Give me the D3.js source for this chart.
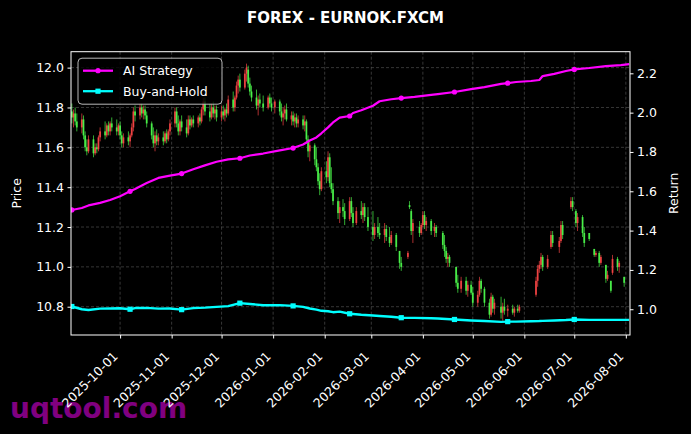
<!DOCTYPE html>
<html>
<head>
<meta charset="utf-8">
<script src="https://cdn.jsdelivr.net/npm/d3@7"></script>
<style>
  body { margin: 0; background: #000; }
  svg { display: block; }
</style>
</head>
<body>
<div id="chart"></div>
<script>
// daily candles (one line per month)
const candleDates = [
  "2025-09-02","2025-09-03","2025-09-04","2025-09-05","2025-09-08","2025-09-09","2025-09-10","2025-09-11","2025-09-12","2025-09-15","2025-09-16","2025-09-17","2025-09-18","2025-09-19","2025-09-22","2025-09-23","2025-09-24","2025-09-25","2025-09-26","2025-09-29","2025-09-30",
  "2025-10-01","2025-10-02","2025-10-03","2025-10-06","2025-10-07","2025-10-08","2025-10-09","2025-10-10","2025-10-13","2025-10-14","2025-10-15","2025-10-16","2025-10-17","2025-10-20","2025-10-21","2025-10-22","2025-10-23","2025-10-24","2025-10-27","2025-10-28","2025-10-29","2025-10-30","2025-10-31",
  "2025-11-03","2025-11-04","2025-11-05","2025-11-06","2025-11-07","2025-11-10","2025-11-11","2025-11-12","2025-11-13","2025-11-14","2025-11-17","2025-11-18","2025-11-19","2025-11-20","2025-11-21","2025-11-24","2025-11-25","2025-11-26","2025-11-27","2025-11-28",
  "2025-12-01","2025-12-02","2025-12-03","2025-12-04","2025-12-05","2025-12-08","2025-12-09","2025-12-10","2025-12-11","2025-12-12","2025-12-15","2025-12-16","2025-12-17","2025-12-18","2025-12-19","2025-12-22","2025-12-23","2025-12-24","2025-12-26","2025-12-29","2025-12-30","2025-12-31",
  "2026-01-02","2026-01-05","2026-01-06","2026-01-07","2026-01-08","2026-01-09","2026-01-12","2026-01-13","2026-01-14","2026-01-15","2026-01-16","2026-01-19","2026-01-20","2026-01-21","2026-01-22","2026-01-23","2026-01-26","2026-01-27","2026-01-28","2026-01-29","2026-01-30",
  "2026-02-02","2026-02-03","2026-02-04","2026-02-05","2026-02-06","2026-02-09","2026-02-10","2026-02-12","2026-02-13","2026-02-16","2026-02-17","2026-02-18","2026-02-20","2026-02-23","2026-02-24","2026-02-25","2026-02-27",
  "2026-03-02","2026-03-03","2026-03-05","2026-03-06","2026-03-09","2026-03-10","2026-03-12","2026-03-13","2026-03-16","2026-03-18","2026-03-19","2026-03-23","2026-03-24","2026-03-25","2026-03-26","2026-03-30","2026-03-31",
  "2026-04-01","2026-04-02","2026-04-03","2026-04-06","2026-04-08","2026-04-09","2026-04-13","2026-04-14","2026-04-15","2026-04-16","2026-04-17","2026-04-21","2026-04-22","2026-04-24","2026-04-27","2026-04-28","2026-04-30",
  "2026-05-01","2026-05-04","2026-05-05","2026-05-06","2026-05-08","2026-05-11","2026-05-12","2026-05-13","2026-05-14","2026-05-18","2026-05-19","2026-05-20","2026-05-22","2026-05-25","2026-05-26","2026-05-28","2026-05-29",
  "2026-06-08","2026-06-09","2026-06-10","2026-06-11","2026-06-12","2026-06-15","2026-06-17","2026-06-18","2026-06-22","2026-06-23","2026-06-24","2026-06-29","2026-06-30",
  "2026-07-02","2026-07-03","2026-07-06","2026-07-07","2026-07-10","2026-07-13","2026-07-14","2026-07-16","2026-07-17","2026-07-20","2026-07-21","2026-07-23","2026-07-24","2026-07-27","2026-07-28","2026-07-31"
];
const opens = [
  11.78,11.75,11.77,11.73,11.70,11.74,11.66,11.60,11.58,11.64,11.57,11.60,11.59,11.65,11.68,11.66,11.71,11.68,11.72,11.70,11.68,
  11.71,11.66,11.62,11.65,11.63,11.66,11.70,11.78,11.76,11.80,11.77,11.79,11.76,11.72,11.66,11.62,11.66,11.63,11.65,11.63,11.67,11.64,11.68,
  11.72,11.78,11.72,11.68,11.73,11.70,11.67,11.74,11.71,11.74,11.72,11.75,11.73,11.79,11.83,11.78,11.75,11.80,11.77,11.79,
  11.75,11.78,11.76,11.79,11.77,11.84,11.80,11.85,11.91,11.94,11.90,11.97,11.99,11.92,11.88,11.85,11.81,11.84,11.82,11.80,11.85,11.82,
  11.80,11.83,11.78,11.75,11.77,11.79,11.74,11.76,11.73,11.75,11.72,11.74,11.71,11.73,11.64,11.58,11.61,11.54,11.50,11.43,11.39,
  11.48,11.45,11.55,11.42,11.39,11.33,11.27,11.30,11.28,11.24,11.33,11.27,11.22,11.28,11.26,11.30,11.25,
  11.20,11.16,11.20,11.17,11.16,11.19,11.15,11.12,11.16,11.08,11.02,11.05,11.31,11.28,11.18,11.20,11.17,
  11.21,11.26,11.21,11.23,11.18,11.20,11.17,11.11,11.08,11.04,11.05,11.00,10.92,10.89,10.93,10.88,10.91,
  10.87,10.82,10.86,10.93,10.89,10.82,10.76,10.85,10.79,10.80,10.77,10.80,10.78,10.79,10.77,10.79,10.78,
  10.86,10.93,10.99,11.01,11.05,11.00,11.10,11.16,11.10,11.13,11.21,11.30,11.33,
  11.28,11.22,11.25,11.17,11.17,11.09,11.06,11.07,11.02,11.01,10.94,10.93,10.97,11.04,11.00,10.95
];
const highs = [
  11.82,11.79,11.80,11.77,11.77,11.76,11.68,11.64,11.66,11.66,11.62,11.62,11.66,11.70,11.73,11.72,11.73,11.73,11.75,11.74,11.72,
  11.73,11.68,11.67,11.68,11.67,11.72,11.80,11.81,11.82,11.82,11.81,11.81,11.78,11.73,11.70,11.68,11.69,11.67,11.68,11.68,11.69,11.69,11.74,
  11.80,11.80,11.76,11.74,11.76,11.74,11.76,11.76,11.75,11.76,11.76,11.77,11.80,11.85,11.85,11.82,11.82,11.83,11.81,11.81,
  11.81,11.81,11.80,11.82,11.86,11.88,11.86,11.93,11.96,11.97,11.99,12.02,12.01,11.95,11.91,11.89,11.86,11.87,11.86,11.86,11.87,11.85,
  11.84,11.84,11.82,11.80,11.81,11.82,11.78,11.78,11.77,11.77,11.76,11.76,11.76,11.74,11.66,11.63,11.62,11.60,11.52,11.47,11.50,
  11.53,11.58,11.57,11.50,11.42,11.35,11.33,11.34,11.32,11.35,11.35,11.30,11.30,11.33,11.32,11.32,11.30,
  11.28,11.22,11.25,11.22,11.22,11.21,11.20,11.18,11.17,11.08,11.05,11.08,11.33,11.29,11.24,11.23,11.22,
  11.28,11.28,11.25,11.24,11.22,11.21,11.18,11.16,11.10,11.07,11.06,11.00,10.96,10.95,10.95,10.93,10.93,
  10.90,10.88,10.95,10.94,10.90,10.84,10.87,10.86,10.84,10.85,10.82,10.84,10.81,10.81,10.80,10.81,10.81,
  10.95,11.01,11.03,11.07,11.06,11.06,11.18,11.18,11.15,11.23,11.23,11.35,11.35,
  11.29,11.27,11.26,11.20,11.17,11.09,11.08,11.08,11.06,11.01,10.98,10.93,11.06,11.05,11.03,10.95
];
const lows = [
  11.72,11.70,11.71,11.68,11.67,11.64,11.58,11.56,11.57,11.55,11.56,11.57,11.58,11.63,11.64,11.65,11.66,11.66,11.68,11.66,11.66,
  11.64,11.60,11.60,11.61,11.60,11.65,11.68,11.73,11.74,11.75,11.74,11.74,11.70,11.64,11.60,11.58,11.61,11.61,11.61,11.62,11.62,11.63,11.66,
  11.70,11.70,11.66,11.66,11.68,11.65,11.66,11.69,11.70,11.70,11.70,11.71,11.72,11.76,11.76,11.73,11.74,11.75,11.74,11.73,
  11.73,11.74,11.73,11.75,11.76,11.78,11.78,11.84,11.87,11.88,11.89,11.93,11.90,11.86,11.83,11.79,11.76,11.80,11.78,11.79,11.80,11.78,
  11.77,11.76,11.73,11.71,11.74,11.73,11.71,11.71,11.70,11.70,11.70,11.69,11.68,11.62,11.55,11.53,11.51,11.48,11.41,11.36,11.38,
  11.42,11.43,11.40,11.37,11.31,11.24,11.22,11.25,11.21,11.23,11.25,11.20,11.21,11.24,11.22,11.23,11.18,
  11.13,11.14,11.15,11.14,11.12,11.13,11.10,11.11,11.08,10.99,10.98,11.04,11.29,11.16,11.12,11.15,11.16,
  11.20,11.19,11.18,11.16,11.15,11.15,11.09,11.05,11.02,11.00,11.00,10.90,10.87,10.87,10.86,10.85,10.86,
  10.80,10.80,10.85,10.87,10.80,10.74,10.75,10.77,10.76,10.74,10.73,10.76,10.75,10.76,10.75,10.77,10.77,
  10.85,10.90,10.97,10.99,10.98,10.99,11.09,11.10,11.07,11.12,11.14,11.29,11.28,
  11.20,11.18,11.15,11.10,11.13,11.05,11.05,11.00,11.01,10.92,10.93,10.87,10.96,10.98,10.97,10.90
];
const closes = [
  11.75,11.77,11.73,11.70,11.74,11.66,11.60,11.58,11.64,11.57,11.60,11.59,11.65,11.68,11.66,11.71,11.68,11.72,11.70,11.68,11.71,
  11.66,11.62,11.65,11.63,11.66,11.70,11.78,11.76,11.80,11.77,11.79,11.76,11.72,11.66,11.62,11.66,11.63,11.65,11.63,11.67,11.64,11.68,11.72,
  11.78,11.72,11.68,11.73,11.70,11.67,11.74,11.71,11.74,11.72,11.75,11.73,11.79,11.83,11.78,11.75,11.80,11.77,11.79,11.75,
  11.78,11.76,11.79,11.77,11.84,11.80,11.85,11.91,11.94,11.90,11.97,12.00,11.92,11.88,11.85,11.81,11.84,11.82,11.80,11.85,11.82,11.80,
  11.83,11.78,11.75,11.77,11.79,11.74,11.76,11.73,11.75,11.72,11.74,11.71,11.73,11.64,11.58,11.61,11.54,11.50,11.43,11.39,11.48,
  11.45,11.55,11.42,11.39,11.33,11.27,11.30,11.28,11.24,11.33,11.27,11.22,11.28,11.26,11.30,11.25,11.20,
  11.16,11.20,11.17,11.16,11.19,11.15,11.12,11.16,11.10,11.02,11.00,11.07,11.30,11.18,11.22,11.17,11.21,
  11.26,11.21,11.23,11.18,11.20,11.17,11.11,11.08,11.04,11.05,11.02,10.92,10.89,10.93,10.88,10.91,10.87,
  10.82,10.86,10.93,10.89,10.82,10.76,10.85,10.79,10.82,10.77,10.80,10.78,10.79,10.77,10.79,10.78,10.80,
  10.93,10.99,11.01,11.05,11.00,11.04,11.16,11.12,11.13,11.21,11.16,11.33,11.30,
  11.22,11.25,11.17,11.12,11.14,11.06,11.07,11.02,11.05,10.94,10.96,10.88,11.04,11.00,11.02,10.92
];

// return curves (right axis)
const retDates = [
  "2025-09-02","2025-09-08","2025-09-12","2025-09-19","2025-09-25",
  "2025-10-01","2025-10-07","2025-10-10","2025-10-17","2025-10-24","2025-10-31",
  "2025-11-07","2025-11-14","2025-11-21","2025-11-28",
  "2025-12-05","2025-12-12","2025-12-18","2025-12-26",
  "2026-01-05","2026-01-13","2026-01-19","2026-01-23","2026-01-27","2026-01-30",
  "2026-02-03","2026-02-06","2026-02-10","2026-02-16","2026-02-18","2026-02-23",
  "2026-03-02","2026-03-06","2026-03-13","2026-03-19","2026-03-27",
  "2026-04-06","2026-04-10","2026-04-20","2026-04-30",
  "2026-05-08","2026-05-18","2026-05-22","2026-05-27",
  "2026-06-05","2026-06-10","2026-06-12","2026-06-19","2026-06-26",
  "2026-07-01","2026-07-10","2026-07-20","2026-07-29",
  "2026-08-03"
];
const aiReturn = [
  1.505,1.515,1.528,1.541,1.556,
  1.575,1.600,1.612,1.642,1.668,1.680,
  1.690,1.712,1.732,1.750,
  1.762,1.768,1.782,1.792,
  1.808,1.820,1.838,1.858,1.874,1.895,
  1.925,1.950,1.975,1.983,1.998,2.012,
  2.035,2.058,2.068,2.074,2.080,
  2.090,2.094,2.105,2.120,
  2.130,2.146,2.150,2.156,
  2.161,2.166,2.186,2.197,2.212,
  2.220,2.227,2.237,2.242,
  2.247
];
const bhReturn = [
  1.014,1.000,0.996,1.003,1.004,
  1.005,1.000,1.006,1.007,1.003,1.004,
  0.998,1.006,1.008,1.012,
  1.016,1.031,1.027,1.020,
  1.021,1.017,1.012,1.004,0.998,0.992,
  0.990,0.985,0.988,0.977,0.976,0.972,
  0.968,0.966,0.962,0.957,0.956,
  0.954,0.953,0.948,0.943,
  0.940,0.936,0.937,0.937,
  0.939,0.940,0.941,0.943,0.945,
  0.948,0.946,0.946,0.946,
  0.946
];
const markerDates = ["2025-09-02","2025-10-07","2025-11-07","2025-12-12","2026-01-13","2026-02-16","2026-03-19","2026-04-20","2026-05-22","2026-07-01"];

const xTickDates = ["2025-10-01","2025-11-01","2025-12-01","2026-01-01","2026-02-01","2026-03-01","2026-04-01","2026-05-01","2026-06-01","2026-07-01","2026-08-01"];
const priceTicks = [10.8, 11.0, 11.2, 11.4, 11.6, 11.8, 12.0];
const returnTicks = [1.0, 1.2, 1.4, 1.6, 1.8, 2.0, 2.2];
const seriesNames = ["AI Strategy", "Buy-and-Hold"];

const width = 691, height = 434;
const margin = {top: 51.7, right: 61, bottom: 99, left: 71};
const innerW = width - margin.left - margin.right;
const innerH = height - margin.top - margin.bottom;
const font = "DejaVu Sans, sans-serif";
const parse = d3.timeParse("%Y-%m-%d");

const candles = candleDates.map((d, i) => ({date: parse(d), o: opens[i], h: highs[i], l: lows[i], c: closes[i]}));
const rets = retDates.map((d, i) => ({date: parse(d), ai: aiReturn[i], bh: bhReturn[i], key: d}));

const x = d3.scaleTime()
  .domain([new Date(2025, 8, 1, 12), new Date(2026, 7, 3, 12)])
  .range([0, innerW]);
const yPrice = d3.scaleLinear().domain([10.658, 12.08]).range([innerH, 0]);
const yRet = d3.scaleLinear().domain([0.869, 2.31]).range([innerH, 0]);

const svg = d3.select("#chart").append("svg")
  .attr("width", width).attr("height", height)
  .style("background", "#000")
  .style("font-family", font);

svg.append("defs").append("clipPath").attr("id", "plotclip")
  .append("rect").attr("width", innerW).attr("height", innerH);

// watermark (under the tick labels)
svg.append("text").attr("x", 10).attr("y", 418)
  .style("fill", "#800080").style("font-size", "28px").style("font-weight", "bold")
  .text("uqtool.com");

const g = svg.append("g").attr("transform", `translate(${margin.left},${margin.top})`);

// grid
const grid = g.append("g").attr("class", "grid");
grid.selectAll("line.vx").data(xTickDates).enter().append("line")
  .attr("x1", d => x(parse(d))).attr("x2", d => x(parse(d)))
  .attr("y1", 0).attr("y2", innerH)
  .style("stroke", "#5a5a5a").style("stroke-width", 0.6).style("stroke-dasharray", "3,2");
grid.selectAll("line.hy").data(priceTicks).enter().append("line")
  .attr("x1", 0).attr("x2", innerW)
  .attr("y1", d => yPrice(d)).attr("y2", d => yPrice(d))
  .style("stroke", "#5a5a5a").style("stroke-width", 0.6).style("stroke-dasharray", "3,2");

const plot = g.append("g").attr("clip-path", "url(#plotclip)");

// candles: red when closing up, green when closing down
const upColor = "#ff4747", downColor = "#4dff4d";
const cg = plot.append("g").attr("class", "candles");
cg.selectAll("line").data(candles).enter().append("line")
  .attr("x1", d => x(d.date)).attr("x2", d => x(d.date))
  .attr("y1", d => yPrice(d.h)).attr("y2", d => yPrice(d.l))
  .style("stroke", d => d.c >= d.o ? upColor : downColor)
  .style("stroke-width", 0.8).style("opacity", 0.85);
cg.selectAll("rect").data(candles).enter().append("rect")
  .attr("x", d => x(d.date) - 0.9)
  .attr("width", 1.8)
  .attr("y", d => yPrice(Math.max(d.o, d.c)))
  .attr("height", d => Math.max(0.8, Math.abs(yPrice(d.o) - yPrice(d.c))))
  .style("fill", d => d.c >= d.o ? upColor : downColor)
  .style("opacity", 0.85);

// return lines
const lineAI = d3.line().x(d => x(d.date)).y(d => yRet(d.ai));
const lineBH = d3.line().x(d => x(d.date)).y(d => yRet(d.bh));
plot.append("path").datum(rets).attr("d", lineAI)
  .style("fill", "none").style("stroke", "#ff00ff").style("stroke-width", 2.2).style("stroke-linejoin", "round");
plot.append("path").datum(rets).attr("d", lineBH)
  .style("fill", "none").style("stroke", "#00ffff").style("stroke-width", 2.4).style("stroke-linejoin", "round");

const marked = rets.filter(d => markerDates.includes(d.key));
plot.selectAll("circle.ai").data(marked).enter().append("circle")
  .attr("cx", d => x(d.date)).attr("cy", d => yRet(d.ai)).attr("r", 2.6)
  .style("fill", "#ff00ff");
plot.selectAll("rect.bh").data(marked).enter().append("rect")
  .attr("x", d => x(d.date) - 2.6).attr("y", d => yRet(d.bh) - 2.6)
  .attr("width", 5.2).attr("height", 5.2)
  .style("fill", "#00ffff");

// axes
const tickFont = "12.5px";
const axL = g.append("g").call(d3.axisLeft(yPrice).tickValues(priceTicks).tickFormat(d3.format(".1f")).tickSize(3.5).tickPadding(3.5));
const axR = g.append("g").attr("transform", `translate(${innerW},0)`)
  .call(d3.axisRight(yRet).tickValues(returnTicks).tickFormat(d3.format(".1f")).tickSize(3.5).tickPadding(3.5));
const axB = g.append("g").attr("transform", `translate(0,${innerH})`)
  .call(d3.axisBottom(x).tickValues(xTickDates.map(parse)).tickFormat(d3.timeFormat("%Y-%m-%d")).tickSize(3.5).tickPadding(3.5));
[axL, axR, axB].forEach(a => {
  a.select(".domain").remove();
  a.selectAll("line").style("stroke", "#fff");
  a.selectAll("text").style("fill", "#fff").style("font-size", tickFont).style("font-family", font);
});
axB.selectAll("text")
  .attr("x", 0).attr("y", 0)
  .attr("text-anchor", "end")
  .attr("dy", "0.35em")
  .attr("transform", "translate(-5,19) rotate(-45)");

// frame
g.append("rect").attr("width", innerW).attr("height", innerH)
  .style("fill", "none").style("stroke", "#fff").style("stroke-width", 1);

// axis labels
svg.append("text").attr("transform", `translate(21,${margin.top + innerH / 2}) rotate(-90)`)
  .attr("text-anchor", "middle").style("fill", "#fff").style("font-size", "12.5px").text("Price");
svg.append("text").attr("transform", `translate(678,${margin.top + innerH / 2}) rotate(-90)`)
  .attr("text-anchor", "middle").style("fill", "#fff").style("font-size", "12.5px").text("Return");

// title
svg.append("text").attr("x", width / 2).attr("y", 23).attr("text-anchor", "middle")
  .style("fill", "#fff").style("font-size", "15px").style("font-weight", "bold")
  .text("FOREX - EURNOK.FXCM");

// legend
const lg = g.append("g").attr("transform", "translate(7,6.5)");
lg.append("rect").attr("width", 144).attr("height", 46).attr("rx", 4)
  .style("fill", "#000").style("fill-opacity", 0.8).style("stroke", "#cccccc").style("stroke-width", 0.9);
const legendColors = ["#ff00ff", "#00ffff"];
seriesNames.forEach((name, i) => {
  const yy = 12.5 + i * 20.5;
  lg.append("line").attr("x1", 5).attr("x2", 35).attr("y1", yy).attr("y2", yy)
    .style("stroke", legendColors[i]).style("stroke-width", 2.3);
  if (i === 0) {
    lg.append("circle").attr("cx", 20).attr("cy", yy).attr("r", 2.6).style("fill", legendColors[i]);
  } else {
    lg.append("rect").attr("x", 17.4).attr("y", yy - 2.6).attr("width", 5.2).attr("height", 5.2).style("fill", legendColors[i]);
  }
  lg.append("text").attr("x", 45).attr("y", yy).attr("dy", "0.35em")
    .style("fill", "#fff").style("font-size", "12.5px").text(name);
});
</script>
</body>
</html>
